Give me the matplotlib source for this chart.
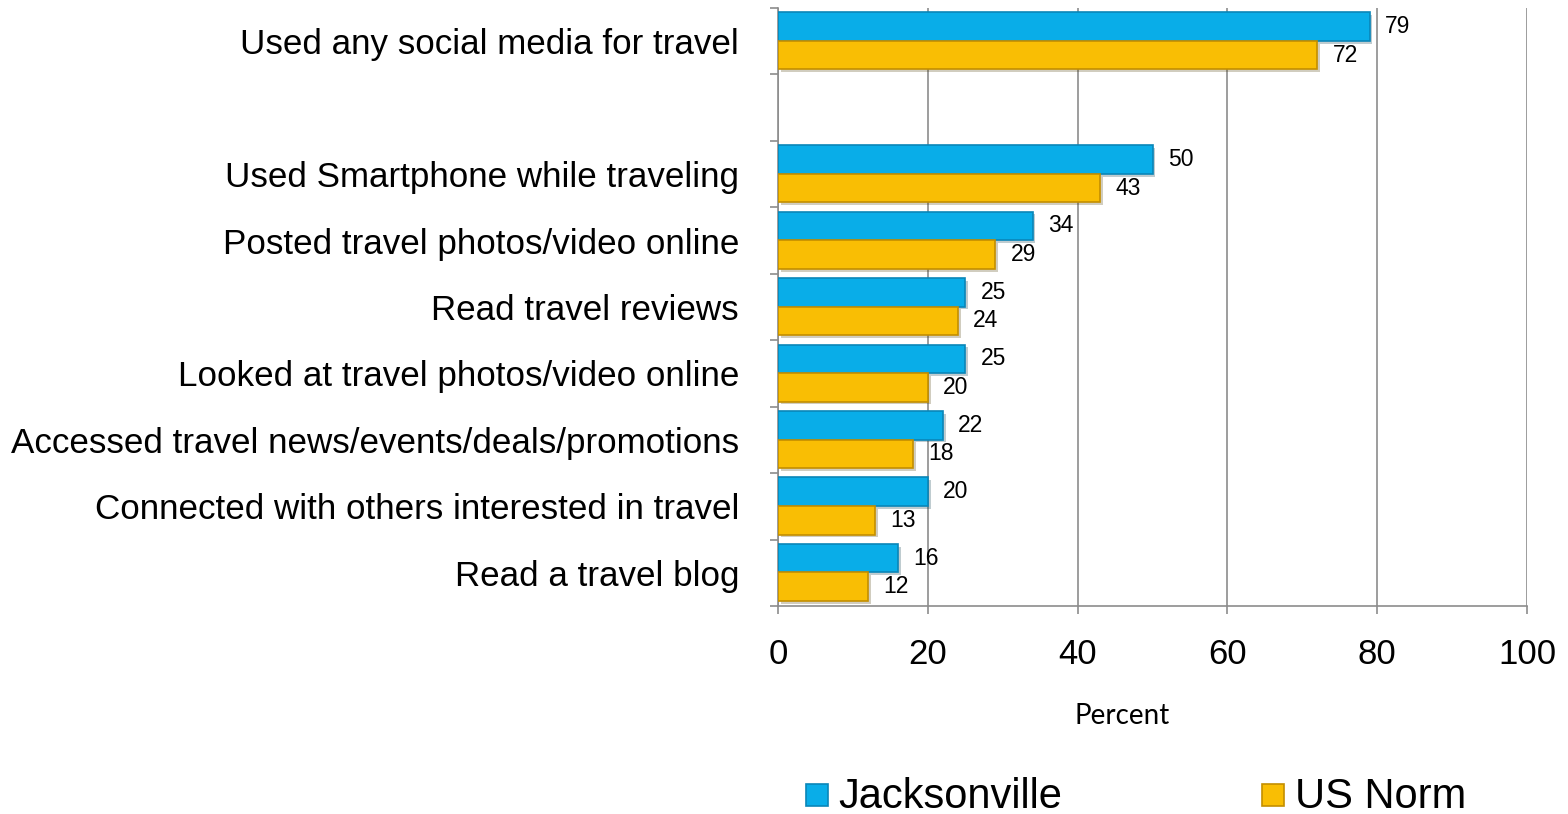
import matplotlib

matplotlib.use('Agg')
import matplotlib.pyplot as plt
from matplotlib import font_manager
from matplotlib.patches import Rectangle
import matplotlib.patheffects as pe
import numpy as np

# 数据
categories = [
    "Used any social media for travel",
    "",
    "Used Smartphone while traveling",
    "Posted travel photos/video online",
    "Read travel reviews",
    "Looked at travel photos/video online",
    "Accessed travel news/events/deals/promotions",
    "Connected with others interested in travel",
    "Read a travel blog",
]
jacksonville = [79, None, 50, 34, 25, 25, 22, 20, 16]
us_norm = [72, None, 43, 29, 24, 20, 18, 13, 12]
series_names = ["Jacksonville", "US Norm"]
x_ticks = [0, 20, 40, 60, 80, 100]


def pick_font(names):
    for name in names:
        try:
            font_manager.findfont(name, fallback_to_default=False)
            return name
        except Exception:
            continue
    return 'DejaVu Sans'


base_font = pick_font(['Liberation Sans', 'Arial'])
narrow_font = pick_font(['Liberation Sans Narrow', 'Arial Narrow', 'Liberation Sans'])
plt.rcParams['font.family'] = base_font

blue = '#09ADE8'
blue_edge = '#0A86B8'
yellow = '#F9BE04'
yellow_edge = '#C48F00'
grid_color = '#8C8C8C'

fig = plt.figure(figsize=(15.68, 8.14), dpi=100)
ax = fig.add_axes([778 / 1568, 1 - 606 / 814, 749 / 1568, 598 / 814])

y = np.arange(len(categories))
bar_h = 0.43
shadow = [pe.SimplePatchShadow(offset=(2, -2), alpha=0.25), pe.Normal()]

for values, off, fc, ec in [(jacksonville, -0.22, blue, blue_edge),
                            (us_norm, 0.21, yellow, yellow_edge)]:
    for yi, v in zip(y, values):
        if v is None:
            continue
        bars = ax.barh(yi + off, v, height=bar_h, color=fc, edgecolor=ec,
                       linewidth=1.2, zorder=3)
        for b in bars:
            b.set_path_effects(shadow)
        ax.annotate(str(v), (v, yi + off), xytext=(11, 0),
                    textcoords='offset points', va='center', ha='left',
                    fontsize=16.5, color='black', zorder=4)

ax.set_xlim(0, 100)
ax.set_ylim(len(categories) - 0.5, -0.5)
ax.set_xticks(x_ticks)
ax.set_xticklabels([str(t) for t in x_ticks], fontsize=25)
ax.tick_params(axis='x', length=6, width=1.2, color=grid_color, pad=17)

# 类别标签放在中间，刻度线放在类别分界处
ax.set_yticks(y)
ax.set_yticklabels(categories, fontsize=25.2, family=narrow_font)
ax.tick_params(axis='y', which='major', length=0, pad=28)
ax.set_yticks(np.arange(len(categories) + 1) - 0.5, minor=True)
ax.tick_params(axis='y', which='minor', length=6, width=1.2, color=grid_color)

ax.grid(axis='x', color=grid_color, linewidth=1.2, zorder=0)
ax.set_axisbelow(True)
for side in ['top', 'right']:
    ax.spines[side].set_visible(False)
for side in ['left', 'bottom']:
    ax.spines[side].set_color(grid_color)
    ax.spines[side].set_linewidth(1.2)

fig.text(1122 / 1568, 1 - 716 / 814, "Percent", ha='center', va='center',
         fontsize=20, family=pick_font(['Lato', 'Open Sans']))

# 图例
for (x0, tx), name, fc, ec in zip([(806, 838), (1262, 1295)], series_names,
                                  [blue, yellow], [blue_edge, yellow_edge]):
    fig.patches.append(Rectangle((x0 / 1568, 1 - 806 / 814), 22 / 1568, 22 / 814,
                                 transform=fig.transFigure, facecolor=fc,
                                 edgecolor=ec, linewidth=1.2))
    fig.text(tx / 1568, 1 - 797 / 814, name, ha='left', va='center',
             fontsize=30)

fig.savefig('out.png', dpi=100)
